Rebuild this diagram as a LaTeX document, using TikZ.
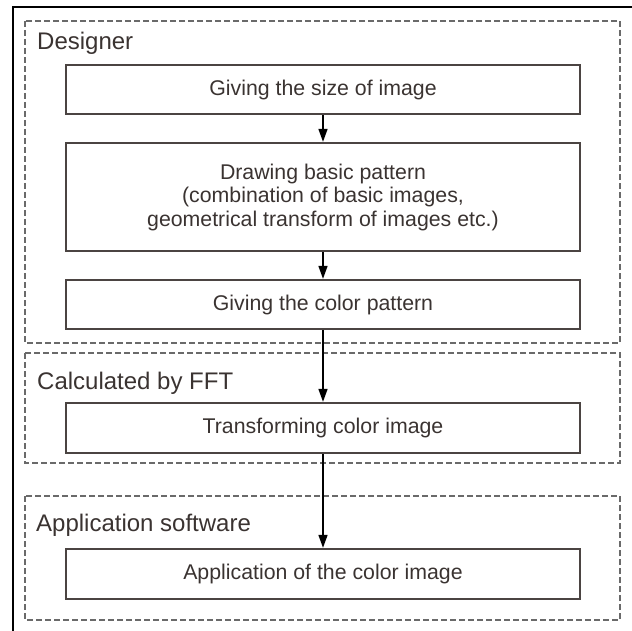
\documentclass[tikz,border=0pt]{standalone}
\usepackage{fontspec}
\setmainfont{Liberation Sans}
\usepackage{xcolor}
\usepackage{tikz}
\usetikzlibrary{arrows.meta}

\definecolor{inkgray}{HTML}{3A3331}
\definecolor{boxgray}{HTML}{4B4442}
\definecolor{dashgray}{HTML}{6A6A6A}

\tikzset{
  stepbox/.style={draw=boxgray, line width=2.3pt, text=inkgray, align=center,
    minimum width=514pt, inner sep=0pt, font=\fontsize{21.3}{23.5}\selectfont},
  groupbox/.style={draw=dashgray, line width=2pt, dash pattern=on 6pt off 3pt},
  grouplabel/.style={anchor=base west, inner sep=0pt, text=inkgray,
    font=\fontsize{24}{26}\selectfont},
  flow/.style={-{Triangle[width=9pt,length=13pt]}, line width=1.5pt, black}
}

\begin{document}
\begin{tikzpicture}[x=1pt, y=-1pt]
	\useasboundingbox (0, 0) rectangle (632, 631);

	% outer frame
	\draw [line width=1.6pt] (13, 631) -- (13, 7) -- (632, 7);

	% groups
	\draw [groupbox] (25, 21) rectangle (620, 343);
	\draw [groupbox] (25, 353) rectangle (620, 463);
	\draw [groupbox] (25, 496) rectangle (620, 620);

	\node (designer) at (37, 50) [grouplabel] {Designer};
	\node (fft) at (37, 389) [grouplabel] {Calculated by FFT};
	\node (appsw) at (36, 531) [grouplabel] {Application software};

	% steps
	\node (size) at (323, 89.5) [stepbox, minimum height=49pt] {Giving the size of image};
	\node (pattern) at (323, 197) [stepbox, minimum height=108pt]
		{Drawing basic pattern\\(combination of basic images,\\geometrical transform of images etc.)};
	\node (colorpat) at (323, 304.5) [stepbox, minimum height=49pt] {Giving the color pattern};
	\node (transform) at (323, 428) [stepbox, minimum height=50pt] {Transforming color image};
	\node (apply) at (323, 574) [stepbox, minimum height=50pt] {Application of the color image};

	\draw [flow] (size) -- (pattern);
	\draw [flow] (pattern) -- (colorpat);
	\draw [flow] (colorpat) -- (transform);
	\draw [flow] (transform) -- (apply);
\end{tikzpicture}
\end{document}
